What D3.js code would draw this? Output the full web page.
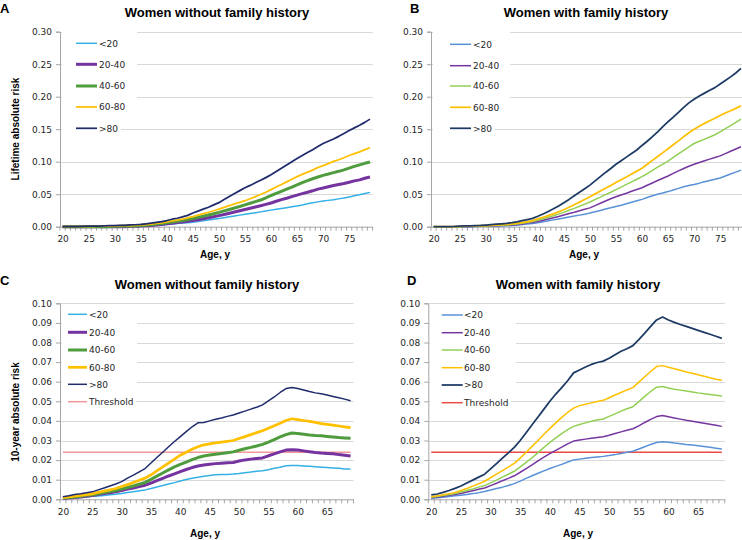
<!DOCTYPE html>
<html>
<head>
<meta charset="utf-8">
<script src="https://cdn.jsdelivr.net/npm/d3@7"></script>
<style>
  body { margin: 0; background: #fff; }
  .tick text { font-family: "DejaVu Sans", Verdana, sans-serif; font-size: 9px; fill: #262626; }
  .ttl { font-family: "Liberation Sans", Arial, sans-serif; font-weight: bold; font-size: 13px; fill: #000; }
  .lbl { font-family: "Liberation Sans", Arial, sans-serif; font-weight: bold; font-size: 10px; fill: #000; }
  .leg { font-family: "DejaVu Sans", Verdana, sans-serif; font-size: 9px; fill: #262626; }
</style>
</head>
<body>
<script>
// categories
var agesLife = [20,21,22,23,24,25,26,27,28,29,30,31,32,33,34,35,36,37,38,39,40,41,42,43,44,45,46,47,48,49,
                50,51,52,53,54,55,56,57,58,59,60,61,62,63,64,65,66,67,68,69,70,71,72,73,74,75,76,77,78,79];
var agesTen = [20,21,22,23,24,25,26,27,28,29,30,31,32,33,34,35,36,37,38,39,40,41,42,43,44,
               45,46,47,48,49,50,51,52,53,54,55,56,57,58,59,60,61,62,63,64,65,66,67,68,69];
var groups = ['<20','20-40','40-60','60-80','>80'];
var lifeTicksX = [20,25,30,35,40,45,50,55,60,65,70,75];
var tenTicksX = [20,25,30,35,40,45,50,55,60,65];
var lifeTicksY = [0,0.05,0.10,0.15,0.20,0.25,0.30];
var tenTicksY = [0,0.01,0.02,0.03,0.04,0.05,0.06,0.07,0.08,0.09,0.10];
var threshold = 0.024;

// A: lifetime risk, without family history
var aLt20 = [0,0,0,0,0,0,0,0,0,0,0,0,.0002,.0004,.0006,.0009,.0012,.0017,.0022,.0028,
  .0035,.0041,.0048,.0055,.0062,.007,.008,.009,.0102,.0113,.0125,.0139,.0153,.0166,.0178,.019,.0202,.0215,.0228,.0241,
  .0255,.0268,.028,.0293,.0307,.032,.0335,.0352,.0368,.0382,.0395,.0405,.0415,.0428,.0442,.0458,.0475,.049,.051,.0528];
var a2040 = [0,0,0,0,0,0,0,0,0,0,0,0,0,.0005,.0008,.0011,.0015,.002,.0027,.0035,
  .0045,.0054,.0063,.0073,.0083,.0095,.0108,.0122,.0137,.0153,.017,.0188,.0207,.0227,.0246,.0265,.0283,.0302,.0322,.0343,
  .0365,.0392,.0416,.0438,.0462,.0485,.0508,.053,.0552,.0578,.0595,.0615,.0635,.065,.0665,.0685,.0705,.072,.0745,.0765];
var a4060 = [0,0,0,0,0,0,0,0,0,.0003,.0005,.0008,.001,.0012,.0016,.002,.0025,.0031,.004,.005,
  .006,.0071,.0083,.0095,.011,.0125,.0143,.016,.018,.02,.022,.0243,.0265,.0288,.031,.0335,.036,.0385,.041,.0443,
  .048,.0512,.0545,.0578,.061,.0645,.0678,.0708,.0738,.0765,.079,.081,.0832,.0852,.0875,.0902,.0928,.0952,.0975,.0995];
var a6080 = [0,0,0,0,0,.0005,.0005,.0007,.0008,.001,.001,.0013,.0015,.0018,.0022,.0027,.0033,.004,.005,.006,
  .0075,.0088,.01,.0115,.0135,.0155,.0178,.02,.0222,.0245,.027,.0297,.0325,.035,.0375,.04,.043,.0462,.0495,.053,
  .057,.061,.065,.069,.073,.077,.0805,.084,.087,.091,.094,.097,.1005,.103,.106,.1095,.1125,.115,.1185,.1215];
var aGt80 = [0,0,0,0,.0005,.001,.001,.001,.0012,.0015,.0017,.002,.0022,.0027,.003,.0036,.0045,.0055,.0066,.0078,
  .0095,.0115,.013,.015,.0175,.021,.024,.027,.03,.0335,.037,.042,.0465,.051,.0555,.06,.0635,.0675,.0715,.0755,
  .08,.085,.09,.095,.1,.105,.1095,.114,.1185,.1235,.128,.1315,.135,.139,.1435,.148,.152,.156,.1605,.1655];

// B: lifetime risk, with family history
var bLt20 = [0,0,0,0,0,0,0,0,.0003,.0005,.0007,.0009,.0011,.0013,.0015,.0018,.0024,.0032,.0042,.005,
  .006,.0075,.009,.0105,.012,.0135,.015,.0163,.0178,.0193,.021,.023,.025,.0272,.029,.031,.033,.0352,.0375,.0398,
  .042,.0448,.0475,.0498,.052,.054,.0565,.059,.0615,.0635,.065,.067,.0692,.0712,.073,.075,.078,.081,.084,.087];
var b2040 = [0,0,0,0,0,0,0,.0004,.0007,.001,.0012,.0014,.0016,.0019,.0022,.0026,.0033,.0042,.0055,.0066,
  .008,.0098,.0118,.0138,.0158,.018,.0202,.0222,.0245,.0268,.029,.0325,.036,.0395,.043,.046,.0488,.0515,.0545,.0572,
  .06,.0638,.0673,.071,.0745,.078,.082,.0858,.0895,.093,.096,.0988,.1015,.104,.1065,.109,.1125,.116,.1195,.123];
var b4060 = [0,0,0,0,0,0,.0004,.0007,.001,.0012,.0015,.0018,.0021,.0024,.0027,.0032,.004,.0052,.0066,.008,
  .01,.0122,.0145,.0168,.0193,.022,.0252,.0282,.0315,.0348,.038,.0418,.0455,.0493,.053,.057,.061,.065,.069,.073,
  .077,.0815,.0865,.0915,.0963,.101,.1065,.112,.1175,.1228,.128,.1315,.1348,.138,.1415,.146,.1508,.1555,.1605,.1655];
var b6080 = [0,0,0,0,0,.0005,.0007,.001,.0012,.0015,.0018,.0022,.0026,.003,.0035,.0042,.005,.0063,.0078,.0095,
  .012,.0145,.017,.0198,.0228,.026,.0298,.0338,.0378,.0418,.046,.0505,.055,.0592,.0635,.068,.0722,.0765,.081,.0855,
  .09,.096,.102,.108,.114,.12,.126,.132,.1385,.1445,.15,.1545,.159,.163,.1668,.171,.1748,.1785,.182,.186];
var bGt80 = [0,0,0,.0003,.0005,.001,.0012,.0014,.0017,.002,.0026,.0032,.0038,.0045,.0052,.0062,.0075,.0092,.011,.0128,
  .016,.0195,.0235,.0275,.032,.037,.042,.0475,.053,.0585,.064,.0705,.077,.0835,.0895,.096,.1015,.107,.1125,.118,
  .125,.1315,.1385,.146,.154,.1615,.1685,.176,.1835,.1905,.196,.201,.2055,.21,.214,.2195,.225,.2305,.2365,.2435];

// C: 10-year risk, without family history
var cLt20 = [.0003,.0005,.0007,.001,.0013,.0015,.0017,.002,.0023,.0026,.003,.0035,.0039,.0044,.0048,.0055,.0063,.007,.0078,.0085,
  .0093,.0101,.0107,.0112,.0118,.0122,.0125,.0126,.0127,.0129,.0132,.0136,.0139,.0143,.0146,.0151,.0158,.0164,.0171,.0173,
  .0172,.017,.0168,.0166,.0164,.0162,.016,.0158,.0155,.0154];
var c2040 = [.0004,.0006,.0009,.0012,.0016,.0019,.0024,.0029,.0033,.0038,.0045,.0052,.0058,.0065,.0072,.0083,.0095,.0107,.0119,.013,
  .0141,.0152,.0162,.017,.0175,.0179,.0182,.0184,.0186,.0188,.0195,.0201,.0205,.0208,.0211,.0222,.0232,.0242,.0251,.0253,
  .0251,.0247,.0243,.0239,.0236,.0234,.0232,.0228,.0225,.0221];
var c4060 = [.0006,.0009,.0012,.0016,.002,.0023,.0028,.0034,.004,.0045,.0052,.006,.0068,.0077,.0086,.0102,.0118,.0134,.015,.0165,
  .0178,.019,.0202,.0213,.0221,.0226,.023,.0234,.0238,.0242,.025,.0258,.0265,.0272,.028,.0292,.0305,.0318,.033,.0338,
  .0336,.0332,.0328,.0325,.0324,.0321,.0318,.0315,.0313,.0311];
var c6080 = [.0008,.0012,.0016,.002,.0024,.0028,.0035,.0042,.0048,.0055,.0065,.0075,.0086,.0097,.0108,.0125,.0145,.0165,.0185,.0205,
  .0225,.024,.0255,.0268,.0278,.0283,.0288,.0292,.0296,.03,.031,.032,.033,.034,.035,.0362,.0375,.0388,.0402,.0411,
  .0407,.0402,.0398,.0392,.0386,.0382,.0378,.0374,.037,.0366];
var cGt80 = [.0013,.0018,.0025,.0028,.0033,.0038,.0048,.0058,.0068,.0078,.009,.0108,.0123,.014,.0157,.0185,.0213,.024,.0268,.0295,
  .032,.0345,.037,.039,.0392,.04,.0408,.0415,.0423,.043,.044,.045,.046,.047,.0482,.0502,.0522,.0545,.0565,.057,
  .0565,.0558,.055,.0543,.0538,.0532,.0525,.0518,.0511,.0503];

// D: 10-year risk, with family history
var dLt20 = [.0005,.0008,.0011,.0014,.0018,.0021,.0025,.0029,.0034,.004,.0047,.0055,.0062,.007,.008,.0093,.0107,.012,.0133,.0145,
  .0157,.0168,.0178,.019,.0201,.0205,.0209,.0213,.0216,.0219,.0223,.0228,.0234,.024,.0245,.0257,.0268,.028,.029,.0294,
  .0291,.0287,.0284,.028,.0277,.0273,.0269,.0265,.0261,.0257];
var d2040 = [.0008,.0011,.0015,.002,.0025,.003,.0037,.0044,.0051,.0058,.007,.0082,.0095,.0107,.012,.0138,.0157,.0176,.0196,.0215,
  .0233,.025,.0266,.0283,.0297,.0302,.0307,.0311,.0315,.0319,.0327,.0336,.0344,.0352,.036,.0375,.0392,.0408,.0422,.0427,
  .0421,.0415,.0409,.0403,.0398,.0393,.0388,.0383,.0378,.0372];
var d4060 = [.001,.0014,.0019,.0024,.003,.0037,.0045,.0053,.0062,.007,.0084,.0098,.0113,.0128,.0143,.0165,.0188,.0212,.0238,.0265,
  .029,.0313,.0335,.0355,.0372,.0382,.039,.0398,.0405,.041,.0423,.0436,.045,.0462,.0472,.0498,.0525,.055,.0572,.0575,
  .0568,.0562,.0557,.0552,.0548,.0543,.0539,.0535,.0531,.0527];
var d6080 = [.0013,.0018,.0023,.0029,.0035,.0045,.0055,.0067,.0079,.0092,.011,.0128,.0146,.0164,.0183,.021,.024,.027,.03,.0332,
  .0362,.039,.0418,.0443,.0465,.0478,.0485,.0492,.0499,.0505,.0518,.0532,.0545,.0558,.057,.0598,.0625,.0652,.0677,.0682,
  .0674,.0666,.0658,.065,.0643,.0635,.0628,.062,.0613,.0607];
var dGt80 = [.0022,.0027,.0035,.0045,.0056,.0068,.0083,.0098,.0113,.0128,.0155,.0182,.021,.0237,.0265,.03,.034,.038,.042,.046,
  .05,.0537,.057,.0605,.0645,.066,.0675,.0688,.0698,.0705,.072,.0738,.0755,.0768,.0784,.0815,.0848,.0882,.0915,.093,
  .0915,.0903,.0892,.0882,.0872,.0862,.0852,.0842,.0832,.0821];

var svg = d3.select('body').append('svg')
  .attr('width', 742).attr('height', 540)
  .style('background', '#fff');

function drawPanel(p){
  var x = d3.scalePoint().domain(p.ages).range([p.x0, p.x1]).padding(0.5);
  var y = d3.scaleLinear().domain([0, p.yMax]).range([p.yBottom, p.yTop]);
  var g = svg.append('g');

  // gridlines
  g.selectAll('line.grid').data(p.yTicks.slice(1)).enter()
    .append('line')
    .attr('x1', p.x0).attr('x2', p.x1)
    .attr('y1', function(d){return Math.round(y(d)) + 0.5})
    .attr('y2', function(d){return Math.round(y(d)) + 0.5})
    .attr('stroke', '#d9d9d9').attr('stroke-width', 1);

  // y axis
  var ya = g.append('g')
    .attr('transform', 'translate(' + p.x0 + ',0)')
    .call(d3.axisLeft(y).tickValues(p.yTicks).tickFormat(d3.format('.2f')).tickSize(4).tickPadding(4));
  // x axis: labels only, tick marks between categories added below
  var xa = g.append('g')
    .attr('transform', 'translate(0,' + p.yBottom + ')')
    .call(d3.axisBottom(x).tickValues(p.xTicks).tickSize(0).tickPadding(9));
  var step = x.step();
  var edges = p.ages.map(function(a){return x(a) - step/2}).concat([x(p.ages[p.ages.length-1]) + step/2]);
  xa.selectAll('line.minor').data(edges).enter()
    .append('line').attr('class', 'minor')
    .attr('x1', function(d){return d}).attr('x2', function(d){return d})
    .attr('y1', 0).attr('y2', 4);
  [ya, xa].forEach(function(ax){
    ax.select('.domain').attr('stroke', '#a6a6a6');
    ax.selectAll('line').attr('stroke', '#a6a6a6');
  });

  // threshold
  if (p.threshold){
    g.append('line')
      .attr('x1', x(p.ages[0])).attr('x2', x(p.ages[p.ages.length-1]))
      .attr('y1', y(p.threshold.value)).attr('y2', y(p.threshold.value))
      .attr('stroke', p.threshold.color).attr('stroke-width', 1.5);
  }

  // series lines
  var line = d3.line()
    .x(function(d){return x(d.age)})
    .y(function(d){return y(d.v)});
  p.series.forEach(function(s){
    var pts = p.ages.map(function(a, i){return {age: a, v: s.values[i]}});
    g.append('path').datum(pts)
      .attr('d', line)
      .attr('fill', 'none')
      .attr('stroke', s.color)
      .attr('stroke-width', s.width)
      .attr('stroke-linejoin', 'round');
  });

  // legend
  var L = p.legend;
  g.append('rect').attr('x', L.box[0]).attr('y', L.box[1]).attr('width', L.box[2]).attr('height', L.box[3]).attr('fill', '#fff');
  var items = p.series.slice();
  if (p.threshold) items.push({name: 'Threshold', color: p.threshold.color, width: 1.5});
  items.forEach(function(s, i){
    var yy = L.rows[i];
    var t = g.append('text').attr('class', 'leg')
      .attr('x', L.tx).attr('y', yy + 3.2).text(s.name);
    var w = t.node().getComputedTextLength();
    g.insert('rect', 'text.leg')
      .attr('x', L.box[0]).attr('y', yy - 7).attr('width', L.tx - L.box[0] + w + 3).attr('height', 14)
      .attr('fill', '#fff');
    g.append('line')
      .attr('x1', L.lx0).attr('x2', L.lx1).attr('y1', yy).attr('y2', yy)
      .attr('stroke', s.color).attr('stroke-width', s.width);
  });

  g.selectAll('.tick text').attr('font-family', null);

  // texts
  g.append('text').attr('class', 'ttl').attr('x', p.title[0]).attr('y', p.title[1])
    .attr('text-anchor', 'middle').text(p.titleText);
  g.append('text').attr('class', 'ttl').attr('x', p.letter[0]).attr('y', p.letter[1]).text(p.letterText);
  g.append('text').attr('class', 'lbl').attr('x', p.xLabel[0]).attr('y', p.xLabel[1])
    .attr('text-anchor', 'middle').text('Age, y');
  if (p.yLabelText){
    g.append('text').attr('class', 'lbl')
      .attr('transform', 'translate(' + p.yLabel[0] + ',' + p.yLabel[1] + ') rotate(-90)')
      .attr('text-anchor', 'middle').text(p.yLabelText);
  }
}

var lifeA = ['#35b0e6', '#7533a0', '#4f9c3f', '#ffc000', '#202b6c'];
var famB = ['#5891d8', '#7536a0', '#92cf55', '#ffc000', '#1d3a64'];

drawPanel({
  ages: agesLife, x0: 60, x1: 372.6, yTop: 31.7, yBottom: 226.7, yMax: 0.30,
  yTicks: lifeTicksY, xTicks: lifeTicksX,
  series: [
    {name: groups[0], values: aLt20, color: lifeA[0], width: 1.5},
    {name: groups[1], values: a2040, color: lifeA[1], width: 3},
    {name: groups[2], values: a4060, color: lifeA[2], width: 3},
    {name: groups[3], values: a6080, color: lifeA[3], width: 1.75},
    {name: groups[4], values: aGt80, color: lifeA[4], width: 1.75}
  ],
  legend: {box: [62, 32, 75, 88], lx0: 76, lx1: 97, tx: 99, rows: [43.3, 64.3, 86, 107, 128.3]},
  titleText: 'Women without family history', title: [217, 17],
  letterText: 'A', letter: [0, 13],
  xLabel: [215, 258],
  yLabelText: 'Lifetime absolute risk', yLabel: [18.5, 129]
});

drawPanel({
  ages: agesLife, x0: 431, x1: 743.6, yTop: 31.7, yBottom: 226.7, yMax: 0.30,
  yTicks: lifeTicksY, xTicks: lifeTicksX,
  series: [
    {name: groups[0], values: bLt20, color: famB[0], width: 1.5},
    {name: groups[1], values: b2040, color: famB[1], width: 1.5},
    {name: groups[2], values: b4060, color: famB[2], width: 1.5},
    {name: groups[3], values: b6080, color: famB[3], width: 1.75},
    {name: groups[4], values: bGt80, color: famB[4], width: 1.75}
  ],
  legend: {box: [433, 32, 77, 88], lx0: 450, lx1: 471, tx: 473, rows: [44.3, 65.7, 86, 107.3, 128.3]},
  titleText: 'Women with family history', title: [586, 17],
  letterText: 'B', letter: [410, 13],
  xLabel: [584, 258]
});

drawPanel({
  ages: agesTen, x0: 60, x1: 353.5, yTop: 303.3, yBottom: 499.3, yMax: 0.10,
  yTicks: tenTicksY, xTicks: tenTicksX,
  series: [
    {name: groups[0], values: cLt20, color: lifeA[0], width: 1.5},
    {name: groups[1], values: c2040, color: lifeA[1], width: 3},
    {name: groups[2], values: c4060, color: lifeA[2], width: 3},
    {name: groups[3], values: c6080, color: lifeA[3], width: 2.75},
    {name: groups[4], values: cGt80, color: lifeA[4], width: 1.5}
  ],
  threshold: {value: threshold, color: '#f39696'},
  legend: {box: [62, 305, 75, 92], lx0: 68, lx1: 87, tx: 89, rows: [314.3, 332.3, 350, 367.3, 384.3, 401.7]},
  titleText: 'Women without family history', title: [207, 289],
  letterText: 'C', letter: [0, 285],
  xLabel: [205, 537],
  yLabelText: '10-year absolute risk', yLabel: [18.5, 412]
});

drawPanel({
  ages: agesTen, x0: 428.3, x1: 724.8, yTop: 303.3, yBottom: 499.3, yMax: 0.10,
  yTicks: tenTicksY, xTicks: tenTicksX,
  series: [
    {name: groups[0], values: dLt20, color: famB[0], width: 1.5},
    {name: groups[1], values: d2040, color: famB[1], width: 1.5},
    {name: groups[2], values: d4060, color: famB[2], width: 1.5},
    {name: groups[3], values: d6080, color: famB[3], width: 1.5},
    {name: groups[4], values: dGt80, color: famB[4], width: 1.75}
  ],
  threshold: {value: threshold, color: '#ec4a44'},
  legend: {box: [430, 305, 86, 92], lx0: 441.7, lx1: 462.7, tx: 464, rows: [315, 332.7, 350, 367.7, 385, 402.7]},
  titleText: 'Women with family history', title: [578, 289],
  letterText: 'D', letter: [407, 285],
  xLabel: [578, 537]
});
</script>
</body>
</html>
